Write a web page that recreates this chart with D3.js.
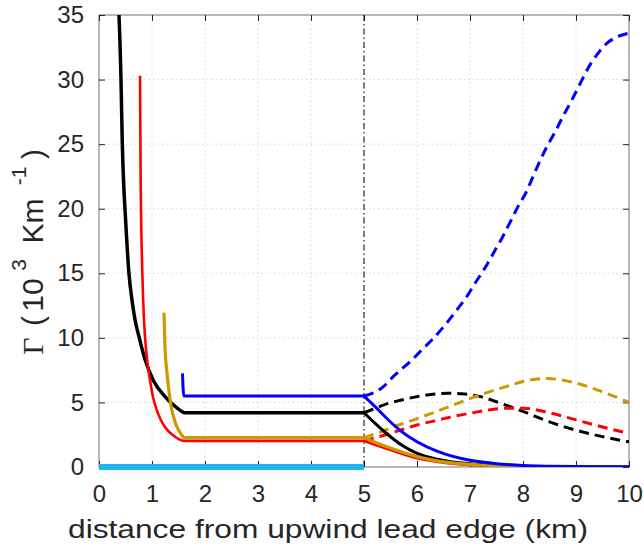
<!DOCTYPE html>
<html><head><meta charset="utf-8">
<script src="https://cdn.jsdelivr.net/npm/d3@7"></script>
<style>
html,body{margin:0;padding:0;background:#fff;}
svg{display:block;}
text{font-family:"Liberation Sans",Arial,Helvetica,sans-serif;fill:#262626;}
</style></head>
<body><svg id="chart" width="644" height="554"></svg>
<script>
// ---- data (x in km, Γ in 10^3 Km^-1) ----
const xTicks = [0,1,2,3,4,5,6,7,8,9,10];
const yTicks = [0,5,10,15,20,25,30,35];
const leadEdge = 5;

const blackUpstream = [[0.36,36.5],[0.377,35],[0.415,30],[0.44,25],[0.47,21.5],[0.49,20],[0.565,15],[0.62,13],[0.68,11.4],[0.76,10],[0.87,8.3],[1.025,6.7],[1.245,5.45],[1.466,4.6],[1.62,4.2],[5,4.2]];
const redUpstream   = [[0.774,30.3],[0.786,22.2],[0.818,15],[0.849,11.4],[0.9,8.6],[0.96,6.8],[1.02,5.4],[1.09,4.4],[1.16,3.7],[1.245,3.1],[1.34,2.65],[1.434,2.35],[1.52,2.12],[1.6,2.02],[5,2.02]];
const goldUpstream  = [[1.226,11.95],[1.245,9.3],[1.28,7.4],[1.31,6.2],[1.37,4.5],[1.42,3.7],[1.47,3.1],[1.54,2.6],[1.62,2.27],[5,2.27]];
const blueUpstream  = [[1.575,7.25],[1.6,5.5],[5,5.5]];
const cyanUpstream  = [[0,0],[5,0]];

const blueDecay  = [[5,5.5],[5.21,4.67],[5.46,3.64],[5.71,2.74],[6,1.96],[6.4,1.19],[7,0.52],[7.5,0.26],[8,0.12],[8.5,0.06],[9,0.03],[10,0.01]];
const blackDecay = [[5,4.2],[5.21,3.38],[5.46,2.48],[5.71,1.7],[6,1.06],[6.4,0.59],[7,0.25],[7.5,0.12],[8,0.05],[9,0.01],[10,0]];
const goldDecay  = [[5,2.27],[5.46,1.52],[6,0.8],[6.4,0.46],[7,0.2],[7.5,0.1],[8,0.05],[9,0.01],[10,0]];
const redDecay   = [[5,2.02],[5.46,1.37],[6,0.67],[6.4,0.39],[7,0.15],[7.5,0.07],[8,0.03],[9,0.01],[10,0]];

const blueGrowth  = [[5,5.5],[5.36,6.2],[5.55,7.0],[5.87,8.16],[6.09,9.06],[6.31,9.97],[6.53,11.0],[6.75,12.16],[6.94,13.2],[7.09,14.2],[7.28,15.4],[7.44,16.55],[7.6,17.7],[7.75,18.9],[7.91,20.2],[8.05,21.2],[8.19,22.5],[8.32,23.7],[8.45,24.8],[8.6,25.9],[8.76,27.2],[8.92,28.4],[9.08,29.7],[9.23,30.9],[9.39,31.9],[9.58,32.8],[9.77,33.3],[10,33.6]];
const blackGrowth = [[5,4.2],[5.21,4.54],[5.46,4.93],[5.71,5.19],[6,5.45],[6.3,5.63],[6.6,5.72],[6.9,5.65],[7.2,5.45],[7.5,5.05],[8,4.3],[8.5,3.5],[9,2.85],[9.5,2.35],[10,1.95]];
const goldGrowth  = [[5,2.27],[5.33,2.74],[5.65,3.25],[6,3.75],[6.4,4.35],[6.72,4.85],[7,5.3],[7.35,5.8],[7.7,6.25],[8,6.62],[8.45,6.85],[8.95,6.55],[9.45,5.9],[10,5.0]];
const redGrowth   = [[5,2.02],[5.33,2.4],[5.65,2.81],[6,3.25],[6.4,3.64],[6.72,3.95],[7,4.16],[7.35,4.42],[7.7,4.55],[8,4.55],[8.5,4.2],[9,3.65],[9.5,3.1],[10,2.6]];

// ---- layout ----
const svg = d3.select("#chart");
const L = 99, R = 629, T = 15, B = 467;
const x = d3.scaleLinear().domain([0,10]).range([L,R]);
const y = d3.scaleLinear().domain([0,35]).range([B,T]);

svg.append("defs").append("clipPath").attr("id","clip")
  .append("rect").attr("x",L).attr("y",T).attr("width",R-L).attr("height",B-T);

// grid
const grid = svg.append("g");
grid.selectAll(".gx").data(xTicks.slice(1,-1)).enter().append("line")
  .attr("x1",d=>x(d)).attr("x2",d=>x(d)).attr("y1",T).attr("y2",B)
  .attr("stroke","#d6d6d6").attr("stroke-width",1).attr("stroke-dasharray","1.5,3");
grid.selectAll(".gy").data(yTicks.slice(1,-1)).enter().append("line")
  .attr("y1",d=>y(d)).attr("y2",d=>y(d)).attr("x1",L).attr("x2",R)
  .attr("stroke","#d6d6d6").attr("stroke-width",1).attr("stroke-dasharray","1.5,3");

// axes box
svg.append("rect").attr("x",L).attr("y",T).attr("width",R-L).attr("height",B-T)
  .attr("fill","none").attr("stroke","#8a8a8a").attr("stroke-width",1.2);

// ticks (inward, all four sides) and labels using d3 axes
const tl = 6;
const axB = svg.append("g").attr("transform",`translate(0,${B})`)
  .call(d3.axisBottom(x).tickValues(xTicks).tickSize(-tl).tickPadding(tl+12).tickFormat(d3.format("d")));
const axT = svg.append("g").attr("transform",`translate(0,${T})`)
  .call(d3.axisTop(x).tickValues(xTicks).tickSize(-tl).tickFormat(""));
const axL = svg.append("g").attr("transform",`translate(${L},0)`)
  .call(d3.axisLeft(y).tickValues(yTicks).tickSize(-tl).tickPadding(tl+9).tickFormat(d3.format("d")));
const axR = svg.append("g").attr("transform",`translate(${R},0)`)
  .call(d3.axisRight(y).tickValues(yTicks).tickSize(-tl).tickFormat(""));
[axB,axT,axL,axR].forEach(a=>{
  a.select(".domain").remove();
  a.selectAll(".tick line").attr("stroke","#262626").attr("stroke-width",1);
  a.selectAll("text").style("font-size","24px").attr("fill","#262626")
    .style("font-family","'Liberation Sans',Arial,Helvetica,sans-serif");
});
axB.selectAll(".tick text").attr("dy","0.71em");

// curves
const line = d3.line().x(d=>x(d[0])).y(d=>y(d[1])).curve(d3.curveMonotoneX);
const plot = svg.append("g").attr("clip-path","url(#clip)");

// lead edge marker
plot.append("line").attr("x1",x(leadEdge)).attr("x2",x(leadEdge)).attr("y1",T).attr("y2",B)
  .attr("stroke","#000").attr("stroke-width",1).attr("stroke-dasharray","6,3,1.5,3");

const series = [
  {d:blackGrowth, c:"#000000", w:3, dash:"10,6"},
  {d:redGrowth,   c:"#ff0000", w:3, dash:"10,6"},
  {d:goldGrowth,  c:"#cc9900", w:3, dash:"10,6"},
  {d:blueGrowth,  c:"#0000ff", w:3, dash:"10,6"},
  {d:blackUpstream, c:"#000000", w:3.5},
  {d:blackDecay,    c:"#000000", w:3},
  {d:redUpstream,   c:"#ff0000", w:2.6},
  {d:redDecay,      c:"#ff0000", w:2.6},
  {d:goldUpstream,  c:"#cc9900", w:3.2},
  {d:goldDecay,     c:"#cc9900", w:3.2},
  {d:blueUpstream,  c:"#0000ff", w:3},
  {d:blueDecay,     c:"#0000ff", w:3}
];
series.forEach(s=>{
  plot.append("path").attr("d",line(s.d)).attr("fill","none")
    .attr("stroke",s.c).attr("stroke-width",s.w)
    .attr("stroke-dasharray",s.dash||null).attr("stroke-linejoin","round");
});
svg.append("path").attr("d",d3.line().x(d=>x(d[0])).y(d=>y(d[1]))(cyanUpstream))
  .attr("fill","none").attr("stroke","#1eb4ec").attr("stroke-width",6);

// axis labels
svg.append("text").attr("x",68).attr("y",538).style("font-size","26px")
  .attr("textLength",520).attr("lengthAdjust","spacingAndGlyphs")
  .text("distance from upwind lead edge (km)");

// y label: pieces laid out along the rotated baseline
const yLabelParts = [
  {t:"Γ",  at:-105, sup:false, serif:true},
  {t:"(",  at:-80,  sup:false},
  {t:"10", at:-54,  sup:false},
  {t:"3",  at:-24,  sup:true},
  {t:"Km", at:20,   sup:false},
  {t:"-1", at:65,   sup:true},
  {t:")",  at:87,   sup:false}
];
const yl = svg.append("text").attr("transform",`translate(43,${(T+B)/2}) rotate(-90)`)
  .attr("text-anchor","middle").style("font-size","30px");
yLabelParts.forEach(p=>{
  const ts = yl.append("tspan").attr("x",p.at).attr("y",p.sup?-17:0).text(p.t);
  if (p.sup) ts.style("font-size","21px");
  if (p.serif) ts.style("font-family","'Liberation Serif','Times New Roman',serif");
});
</script></body></html>
